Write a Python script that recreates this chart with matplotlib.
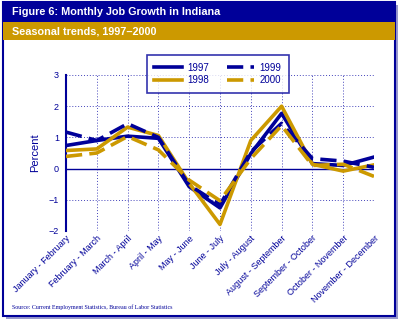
import matplotlib
matplotlib.use('Agg')
import matplotlib.pyplot as plt
from matplotlib.patches import Rectangle

periods = ['January - February', 'February - March', 'March - April', 'April - May',
           'May - June', 'June - July', 'July - August', 'August - September',
           'September - October', 'October - November', 'November - December']
y1997 = [0.74, 0.90, 1.04, 0.97, -0.58, -1.26, 0.48, 1.77, 0.16, 0.10, 0.37]
y1998 = [0.58, 0.63, 1.33, 1.06, -0.47, -1.79, 0.90, 2.00, 0.14, -0.08, 0.12]
y1999 = [1.17, 0.90, 1.44, 1.00, -0.53, -1.16, 0.54, 1.45, 0.32, 0.24, 0.04]
y2000 = [0.39, 0.50, 1.03, 0.60, -0.37, -1.03, 0.32, 1.38, 0.10, 0.14, -0.25]

navy = '#000099'
gold = '#cc9900'
plt.rcParams['font.family'] = ['Liberation Sans', 'DejaVu Sans']

fig = plt.figure(figsize=(4, 3.21), dpi=100)
W, H = 400, 321

def box(x0, y0, x1, y1, **kw):
    fig.patches.append(Rectangle((x0 / W, 1 - y1 / H), (x1 - x0) / W, (y1 - y0) / H,
                                 transform=fig.transFigure, figure=fig, zorder=-10, **kw))

# shadow + frame + header bars
box(6, 5, 398, 319, facecolor='#9999cc', edgecolor='none')
box(3, 2, 395, 316, facecolor='white', edgecolor=navy, linewidth=1.5)
box(3, 2, 395, 22, facecolor=navy, edgecolor='none')
box(3, 22, 395, 40, facecolor=gold, edgecolor='none')
fig.text(12 / W, 1 - 12 / H, 'Figure 6: Monthly Job Growth in Indiana', color='white',
         fontsize=7.8, fontweight='bold', va='center')
fig.text(12 / W, 1 - 31 / H, 'Seasonal trends, 1997\u20132000', color='white',
         fontsize=7.8, fontweight='bold', va='center')
fig.text(12 / W, 1 - 307 / H, 'Source: Current Employment Statistics, Bureau of Labor Statistics',
         color=navy, fontsize=4.3, family='Liberation Serif', va='center')

ax = fig.add_axes([66 / W, 1 - 231 / H, 308 / W, 156 / H])
ax.patch.set_alpha(0)
x = list(range(len(periods)))
lw = 2.6
ax.plot(x, y1997, color=navy, lw=lw, label='1997', zorder=3)
ax.plot(x, y1998, color=gold, lw=lw, label='1998', zorder=3)
ax.plot(x, y1999, color=navy, lw=lw, ls=(0, (4.5, 2)), label='1999', zorder=3)
ax.plot(x, y2000, color=gold, lw=lw, ls=(0, (4.5, 2)), label='2000', zorder=3)

ax.set_xlim(0, len(periods) - 1)
ax.set_ylim(-2, 3)
ax.set_yticks([-2, -1, 0, 1, 2, 3])
ax.set_xticks(x)
ax.set_xticklabels(periods, rotation=45, ha='right', rotation_mode='anchor')
ax.tick_params(axis='both', colors=navy, labelsize=6.5, length=0, pad=5)
ax.tick_params(axis='x', pad=2)
ax.grid(True, color='#4444bb', ls=(0, (1, 2)), lw=0.7)
ax.axhline(0, color=navy, lw=1, zorder=2)
for s in ['top', 'right', 'bottom']:
    ax.spines[s].set_visible(False)
ax.spines['left'].set_color(navy)
ax.spines['left'].set_linewidth(1.5)
ax.set_ylabel('Percent', color=navy, fontsize=8, labelpad=6)

leg = ax.legend(ncol=2, loc='center', bbox_to_anchor=(218 / W, 1 - 74 / H),
                bbox_transform=fig.transFigure, fontsize=7, frameon=True, fancybox=False,
                edgecolor=navy, handlelength=2.8, columnspacing=1.8, borderpad=0.8,
                labelspacing=0.3, handletextpad=0.6)
leg.get_frame().set_linewidth(1.2)
for t in leg.get_texts():
    t.set_color(navy)

fig.savefig('out.png', dpi=100)
